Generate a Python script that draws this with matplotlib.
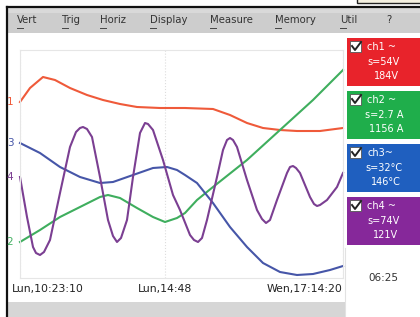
import matplotlib
matplotlib.use("Agg")
import matplotlib.pyplot as plt
from matplotlib.patches import Rectangle
from matplotlib.transforms import ScaledTranslation

W, H = 420, 317

# trace readings off the scope screen: t = sample, v = level above graticule bottom
ch1_t = [0, 10, 23, 35, 50, 67, 83, 100, 117, 140, 165, 193, 210, 227, 243, 260, 277, 300, 323]
ch1_v = [176, 190, 201, 198, 190, 183, 178, 174, 171, 170, 170, 169, 163, 155, 150, 148, 147, 147, 150]

ch2_t = [0, 20, 40, 60, 80, 88, 100, 117, 133, 145, 157, 165, 177, 193, 227, 260, 293, 323]
ch2_v = [36, 48, 61, 71, 81, 83, 80, 70, 61, 56, 60, 65, 78, 91, 118, 148, 178, 208]

ch3_t = [0, 20, 40, 60, 80, 93, 113, 133, 147, 157, 165, 177, 193, 210, 227, 243, 260, 277, 293, 310, 323]
ch3_v = [135, 125, 111, 101, 95, 96, 103, 110, 111, 108, 103, 95, 75, 51, 31, 15, 6, 3, 4, 8, 12]

ch4_t = [0, 7, 13, 16, 20, 24, 30, 40, 50, 56, 60, 63, 67, 72, 80, 88, 93, 97, 101, 107,
         113, 120, 125, 128, 133, 143, 153, 160, 170, 174, 178, 182, 187, 197, 203, 207,
         210, 213, 217, 227, 237, 242, 246, 250, 257, 267, 270, 273, 276, 280, 290, 294,
         297, 300, 307, 317, 323]
ch4_v = [101, 61, 31, 25, 23, 26, 38, 85, 131, 146, 150, 151, 149, 141, 101, 58, 42, 36, 40, 58,
         101, 145, 155, 154, 148, 118, 83, 68, 43, 38, 36, 40, 58, 101, 128, 138,
         140, 138, 131, 98, 68, 59, 55, 58, 78, 105, 111, 112, 110, 105, 81, 74,
         72, 73, 78, 91, 105]

channels = ["1", "2", "3", "4"]
line_colors = ["#ef5a3a", "#3fae5e", "#4656a8", "#7b3f92"]
box_colors = ["#e8232b", "#1fae4b", "#1f5fbf", "#86289a"]
box_text = [["ch1 ~", "s=54V", "184V"],
            ["ch2 ~", "s=2.7 A", "1156 A"],
            ["ch3~", "s=32\u00b0C", "146\u00b0C"],
            ["ch4 ~", "s=74V", "121V"]]

time_ticks = [0, 145, 323]
time_labels = ["Lun,10:23:10", "Lun,14:48", "Wen,17:14:20"]
menu = ["Vert", "Trig", "Horiz", "Display", "Measure", "Memory", "Util", "?"]
menu_x = [17, 62, 100, 150, 210, 275, 340, 386]
clock = "06:25"

fig = plt.figure(figsize=(W / 100, H / 100), dpi=100)

# screen furniture, drawn in pixel coordinates
bg = fig.add_axes([0, 0, 1, 1])
bg.set_xlim(0, W)
bg.set_ylim(H, 0)
bg.axis("off")
bg.add_patch(Rectangle((7, 8), W - 7, 25, color="#cdcdcd", lw=0))
bg.add_patch(Rectangle((7, 8), W - 7, 5, color="#d9d9d9", lw=0))
bg.add_patch(Rectangle((7, 302), 338, 15, color="#d6d6d6", lw=0))
bg.plot([7, 7], [7, H], color="#111111", lw=1.6)
bg.plot([7, W], [7, 7], color="#111111", lw=1.6)
bg.add_patch(Rectangle((357, -6), 70, 9, fc="#f4f0e0", ec="#222222", lw=1))
bg.plot([345, 345], [248, H], color="#e2e2e2", lw=0.8)

for lbl, x in zip(menu, menu_x):
    bg.text(x, 20, lbl, fontsize=7.3, color="#333333", va="center", ha="left")
    if lbl != "?":
        bg.plot([x, x + 6], [27.5, 27.5], color="#444444", lw=0.7)

box_y = [38, 91, 144, 197]
for i, y0 in enumerate(box_y):
    bg.add_patch(Rectangle((347, y0), 73, 48, color=box_colors[i], lw=0))
    bg.add_patch(Rectangle((350, y0 + 3), 11, 11, fc="white", ec="#555555", lw=0.6))
    bg.plot([352, 355, 361], [y0 + 8, y0 + 12, y0 + 4], color="#222222", lw=1.4)
    bg.text(367, y0 + 9, box_text[i][0], fontsize=7, color="white", va="center", ha="left")
    bg.text(384, y0 + 24, box_text[i][1], fontsize=7, color="white", va="center", ha="center")
    bg.text(386, y0 + 38, box_text[i][2], fontsize=7, color="white", va="center", ha="center")

bg.text(383, 278, clock, fontsize=7.5, color="#333333", va="center", ha="center")

# the trace area
ax = fig.add_axes([20 / W, (H - 278) / H, 323 / W, 228 / H])
ax.set_facecolor("none")
ax.set_xlim(0, 323)
ax.set_ylim(0, 228)
for s in ax.spines.values():
    s.set_color("#e6e6e6")
    s.set_linewidth(0.8)
ax.set_yticks([])
ax.grid(axis="x", ls=":", color="#dddddd", lw=0.8)

series = [(ch1_t, ch1_v), (ch2_t, ch2_v), (ch3_t, ch3_v), (ch4_t, ch4_v)]
for (t, v), c, name in zip(series, line_colors, channels):
    ax.plot(t, v, color=c, lw=1.5, solid_joinstyle="round", clip_on=False)
    ax.annotate(name, (t[0], v[0]), xytext=(-10, 0), textcoords="offset pixels",
                color=c, fontsize=7.5, ha="center", va="center", annotation_clip=False)

ax.set_xticks(time_ticks)
ax.set_xticklabels(time_labels, fontsize=7.8, color="#222222")
ax.tick_params(axis="x", length=0, pad=4)
tl = ax.get_xticklabels()
tl[0].set_ha("left")
tl[0].set_transform(tl[0].get_transform() + ScaledTranslation(-8 / 100, 0, fig.dpi_scale_trans))
tl[2].set_ha("right")

fig.savefig("out.png", dpi=100)
